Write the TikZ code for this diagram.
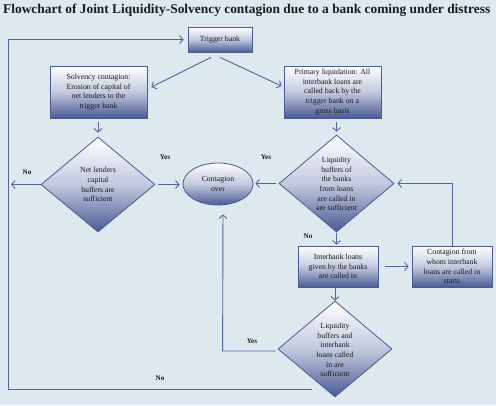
\documentclass[tikz,border=0pt]{standalone}
\usepackage{fontspec}
\setmainfont{Liberation Serif}
\usetikzlibrary{shapes.geometric,arrows.meta,calc}
\definecolor{bg}{HTML}{DDE9EF}
\definecolor{dk}{HTML}{4A5A94}
\definecolor{mid}{HTML}{C2C9DE}
\definecolor{ln}{HTML}{5065A0}
\definecolor{tx}{HTML}{1A1A1A}
\tikzset{
  shade3/.style={top color=white, bottom color=dk, middle color=mid, draw=dk, line width=0.8pt},
  boxn/.style={shade3, rectangle, inner sep=0pt, align=center, text=tx,
    font=\fontsize{7.8}{9.7}\selectfont},
  dian/.style={shade3, diamond, inner sep=0pt},
  elln/.style={shade3, ellipse, inner sep=0pt, align=center, text=tx,
    font=\fontsize{7.8}{9.7}\selectfont},
  dtext/.style={align=center, text=tx, inner sep=0pt, font=\fontsize{7.8}{9.7}\selectfont},
  lab/.style={text=tx, inner sep=0pt, font=\fontsize{7.2}{8}\selectfont\bfseries},
  arr/.style={draw=ln, line width=0.9pt, -{Straight Barb[length=3.5pt,width=8pt]}},
  conn/.style={draw=ln, line width=0.9pt}
}
\begin{document}
\begin{tikzpicture}[x=1pt,y=-1pt]
\fill[bg] (0,0) rectangle (496,405);
\useasboundingbox (0,0) rectangle (496,405);
\node[anchor=base west, inner sep=0pt, text=tx, font=\fontsize{13.4}{15}\selectfont\bfseries] (title) at (3,13.5)
  {Flowchart of Joint Liquidity-Solvency contagion due to a bank coming under distress};

\node[boxn, minimum width=64, minimum height=25] (trig) at (220,39.5) {Trigger bank};
\node[boxn, minimum width=97, minimum height=52] (solv) at (98.5,92)
  {Solvency contagion:\\Erosion of capital of\\net lenders to the\\trigger bank};
\node[boxn, minimum width=97, minimum height=52] (prim) at (332.5,92)
  {Primary liquidation: All\\interbank loans are\\called back by the\\trigger bank on a\\gross basis};

\node[dian, minimum width=114, minimum height=95] (ldia) at (98,184.5) {};
\node[dtext] (ldiat) at (98,184.5) {Net lenders\\capital\\buffers are\\sufficient};

\node[elln, minimum width=70, minimum height=42] (ell) at (218,184) {Contagion\\over};

\node[dian, minimum width=115, minimum height=97] (rd) at (336.5,183.5) {};
\node[dtext] (rdt) at (336.5,184) {Liquidity\\buffers of\\the banks\\from loans\\are called in\\are sufficient};

\node[boxn, minimum width=80, minimum height=41] (ib) at (338,266.5)
  {Interbank loans\\given by the banks\\are called in};
\node[boxn, minimum width=80, minimum height=41] (cf) at (452,266.5)
  {Contagion from\\whom interbank\\loans are called in\\starts};

\node[dian, minimum width=114, minimum height=96] (bd) at (335,349) {};
\node[dtext] (bdt) at (335,350) {Liquidity\\buffers and\\interbank\\loans called\\in are\\sufficient};

\coordinate (nb) at (312,389);
\coordinate (cl) at (8,389);

% connectors
\draw[arr] ($(trig.south)+(-9,5)$) -- ($(solv.east)+(4,-5)$);
\draw[arr] ($(trig.south)+(0,5)$) -- ($(prim.west)+(-2,-6)$);
\draw[arr, shorten <=4pt, shorten >=4pt] (solv.south -| ldia.north) -- (ldia.north);
\draw[arr, shorten <=4pt, shorten >=3pt] (prim.south -| rd.north) -- (rd.north);
\draw[arr, shorten >=3pt] (ldia.west) -- (ldia.west -| cl);
\draw[arr, shorten <=3pt, shorten >=3pt] (ldia.east) -- (ldia.east -| ell.west);
\draw[arr, shorten <=3pt, shorten >=2pt] (rd.west) -- (rd.west -| ell.east);
\draw[arr, shorten <=1pt, shorten >=1pt] (rd.south) -- (rd.south |- ib.north);
\draw[arr, shorten <=7pt, shorten >=3pt] (ib.east) -- (cf.west);
\draw[arr, shorten >=3pt] (cf.north) -- (cf.north |- rd.east) -- (rd.east);
\draw[arr, shorten <=1pt, shorten >=0pt] (ib.south -| bd.north) -- (bd.north);
\draw[arr, shorten <=2pt, shorten >=9pt] ($(bd.west)+(0,2)$) -- ++(-55,0) -- ($(ell.south)+(5,0)$);
\draw[arr, shorten >=4pt] (nb) -- (cl) |- (trig.west);

% labels
\node[lab] (no1) at (27,172) {No};
\node[lab] (yes1) at (165,157) {Yes};
\node[lab] (yes2) at (266,157) {Yes};
\node[lab] (no2) at (308,236) {No};
\node[lab] (yes3) at (252,341) {Yes};
\node[lab] (no3) at (160,378) {No};
\end{tikzpicture}
\end{document}
